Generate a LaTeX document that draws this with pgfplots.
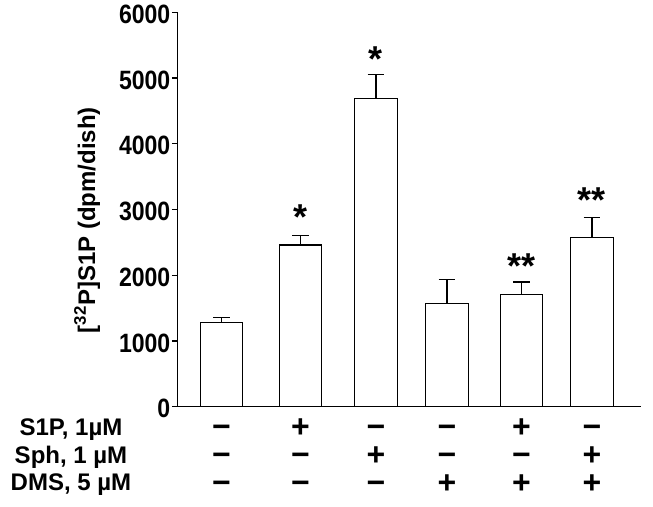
\documentclass[border=0pt]{standalone}
\usepackage{fontspec}
\setmainfont{Liberation Sans}
\newfontfamily\tickfont{Liberation Sans}[FakeStretch=0.87]
\usepackage{pgfplots}
\pgfplotsset{compat=1.18}
\newcommand\sg[1]{\strut#1}
\begin{document}
\begin{tikzpicture}
\path[use as bounding box] (-177.5pt,-99.3pt) rectangle (475.5pt,406.7pt);
\begin{axis}[
  scale only axis, width=463.5pt, height=394.4pt,
  xmin=177.5, xmax=641, ymin=0, ymax=6000,
  axis lines=left,
  axis line style={-, line width=1.3pt, black},
  clip=false,
  ytick={0,1000,2000,3000,4000,5000,6000},
  yticklabels={0,1000,2000,3000,4000,5000,6000},
  tick align=outside,
  major tick length=5.5pt,
  ytick style={line width=1.3pt, black},
  yticklabel style={font=\tickfont\bfseries\fontsize{26.5}{28}\selectfont, inner sep=0pt, xshift=-1.5pt, yshift=-2pt},
  xtick={221.5,300.5,376,447,521.5,592},
  xticklabels={{\sg{−}\\\sg{−}\\\sg{−}},{\sg{+}\\\sg{−}\\\sg{−}},{\sg{−}\\\sg{+}\\\sg{−}},{\sg{−}\\\sg{−}\\\sg{+}},{\sg{+}\\\sg{−}\\\sg{+}},{\sg{−}\\\sg{+}\\\sg{+}}},
  xtick style={draw=none},
  xticklabel style={align=center, anchor=north, inner sep=0pt, yshift=-6pt, font=\bfseries\fontsize{32}{27.7}\selectfont},
  ylabel={[\textsuperscript{32}P]S1P (dpm/dish)},
  ylabel style={font=\bfseries\fontsize{24}{28}\selectfont, at={(axis description cs:-0.195,0.473)}, anchor=center},
]
\addplot[ybar, bar width=42.5pt, fill=white, draw=black, line width=1.3pt,
  error bars/.cd, y dir=plus, y explicit,
  error bar style={line width=1.3pt, black},
  error mark options={rotate=90, mark size=8.3pt, line width=1.3pt, black}]
  coordinates {(221.5,1278) +- (0,76) (300.5,2460) +- (0,148) (376,4686) +- (0,365)
               (447,1567) +- (0,371) (521.5,1704) +- (0,193) (592,2571) +- (0,311)};
\addplot[draw=none, mark=none, nodes near coords=\pgfplotspointmeta, point meta=explicit symbolic,
  nodes near coords style={anchor=center, inner sep=0pt, yshift=-7pt, font=\bfseries\fontsize{36}{36}\selectfont}]
  coordinates {(300.5,2997) [*] (376,5401) [*] (521.5,2247) [**] (592,3251) [**]};
\end{axis}
\node[anchor=north, align=center, inner sep=0pt, font=\bfseries\fontsize{24}{27.7}\selectfont]
  at (-106.5pt,-9.2pt) {\strut S1P, 1µM\\\strut Sph, 1 µM\\\strut DMS, 5 µM};
\end{tikzpicture}
\end{document}
